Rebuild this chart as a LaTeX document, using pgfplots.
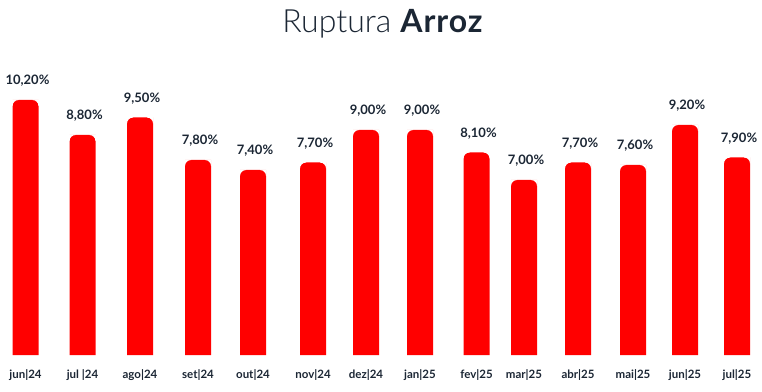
\documentclass[border=0pt]{standalone}
\usepackage{fontspec}
\setmainfont{Lato}
\IfFontExistsTF{Lato Light}{\newfontfamily\titlelight{Lato Light}}{\newfontfamily\titlelight{Lato}}
\usepackage{pgfplots}
\pgfplotsset{compat=1.18}
\definecolor{barred}{HTML}{FF0000}
\definecolor{txt}{HTML}{1B2634}
% white cut-outs that round the two top corners of a 26pt bar
\pgfdeclareplotmark{roundtop}{%
  \pgfpathmoveto{\pgfpoint{-13.6pt}{0.6pt}}%
  \pgfpathlineto{\pgfpoint{-13.6pt}{-6pt}}%
  \pgfpathlineto{\pgfpoint{-13pt}{-6pt}}%
  \pgfpatharc{180}{90}{6pt}%
  \pgfpathlineto{\pgfpoint{-7pt}{0.6pt}}%
  \pgfpathclose
  \pgfpathmoveto{\pgfpoint{13.6pt}{0.6pt}}%
  \pgfpathlineto{\pgfpoint{13.6pt}{-6pt}}%
  \pgfpathlineto{\pgfpoint{13pt}{-6pt}}%
  \pgfpatharc{0}{90}{6pt}%
  \pgfpathlineto{\pgfpoint{7pt}{0.6pt}}%
  \pgfpathclose
  \pgfusepathqfill}
\begin{document}
\begin{tikzpicture}[x=1pt,y=1pt]
\path[use as bounding box] (0,0) rectangle (762,391);
\begin{axis}[
  at={(0pt,36pt)}, anchor=south west,
  scale only axis, width=762pt, height=295pt,
  xmin=0, xmax=762,
  ymin=0, ymax=11.8,
  ybar, bar width=26pt,
  hide y axis,
  axis x line*=bottom,
  x axis line style={draw=none},
  xtick style={draw=none},
  xtick=data,
  xticklabels={jun|24, jul |24, ago|24, set|24, out|24, nov|24, dez|24, jan|25, fev|25, mar|25, abr|25, mai|25, jun|25, jul|25},
  xticklabel style={anchor=base, yshift=-19pt, text=txt, font=\bfseries\fontsize{11.5}{13}\selectfont},
]
\addplot[fill=barred, draw=none,
  mark=roundtop, mark options={fill=white, draw=none},
  nodes near coords={\pgfmathprintnumber[fixed,fixed zerofill,precision=2,use comma,assume math mode=true]{\pgfplotspointmeta}\%},
  nodes near coords style={anchor=base, yshift=15pt, xshift=2pt, text=txt, font=\bfseries\fontsize{13}{15}\selectfont},
] coordinates {
  (25.5,10.2) (82.5,8.8) (140,9.5) (198,7.8) (253,7.4) (313,7.7) (366,9.0)
  (420,9.0) (476.5,8.1) (524,7.0) (578,7.7) (633,7.6) (685,9.2) (737,7.9)
};
\end{axis}
\node[anchor=base, text=txt, font=\fontsize{32}{37}\selectfont\addfontfeatures{LetterSpace=3}] at (383,358) {{\titlelight Ruptura} \textbf{Arroz}};
\end{tikzpicture}
\end{document}
